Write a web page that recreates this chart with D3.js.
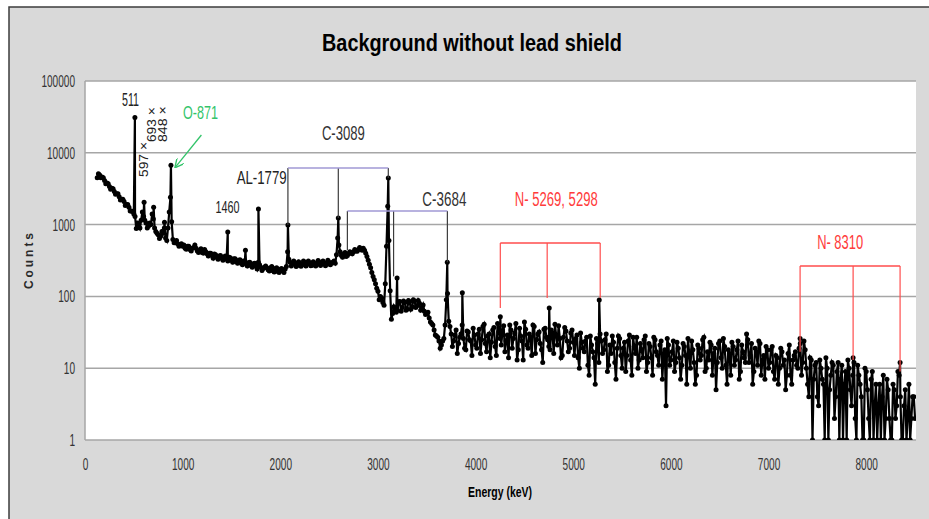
<!DOCTYPE html>
<html>
<head>
<meta charset="utf-8">
<script src="https://cdn.jsdelivr.net/npm/d3@7"></script>
<style>
  body { margin: 0; background: #fff; }
  text { font-family: "Liberation Sans", Arial, sans-serif; }
</style>
</head>
<body>
<div id="chart"></div>
<script>
// spectrum bins: 25 keV wide, first bin at 125 keV
var binStart = 125, binWidth = 25;

// 125 - 1000 keV
var countsLow = [4500, 4900, 4600, 4100, 3800, 3400, 3200, 2900, 2700, 2450,
    2250, 2100, 1900, 1750, 1550, 1400, 880, 1000, 1150, 1300,
    1050, 950, 1000, 1200, 800, 720, 690, 760, 650, 900,
    2400, 620, 560, 540, 520, 500];
// 1025 - 2000 keV
var countsK1 = [470, 500, 450, 470, 520, 430, 440, 410, 450, 390,
    400, 370, 390, 350, 365, 340, 355, 330, 350, 320,
    335, 305, 320, 290, 310, 285, 295, 270, 285, 262,
    300, 255, 245, 265, 235, 250, 228, 245, 222, 238];
// 2025 - 3000 keV
var countsK2 = [225, 240, 420, 300, 280, 295, 270, 290, 275, 300,
    280, 295, 272, 290, 278, 300, 285, 295, 280, 300,
    290, 310, 380, 520, 370, 390, 360, 395, 400, 420,
    430, 450, 455, 470, 400, 320, 250, 190, 150, 118];
// 3025 - 4000 keV
var countsK3 = [100, 82, 150, 1800, 120, 58, 65,
    64, 85, 70, 82, 66, 84, 72, 86, 74, 80,
    68, 62, 58, 50, 42, 34, 28, 24, 21, 26,
    90, 45, 30, 24, 34, 22, 30, 26, 18, 32,
    24, 36, 21];
// 4025 - 5000 keV
var countsK4 = [30, 16, 38, 22, 28, 14, 34, 20, 42, 26,
    33, 17, 29, 40, 19, 31, 13, 36, 24, 44,
    21, 30, 15, 38, 25, 32, 18, 35, 27, 20,
    34, 16, 29, 39, 14, 27, 33, 17, 31, 23];
// 5025 - 6000 keV
var countsK5 = [26, 14, 31, 19, 24, 11, 28, 17, 6, 22,
    30, 16, 25, 9, 21, 28, 12, 19, 26, 10,
    23, 15, 29, 8, 20, 27, 13, 18, 25, 9,
    22, 14, 27, 17, 11, 24, 16, 3, 21, 13];
// 6025 - 7000 keV
var countsK6 = [24, 12, 19, 7, 22, 15, 26, 10, 18, 6,
    21, 13, 25, 9, 17, 23, 8, 19, 12, 24,
    10, 20, 6, 16, 23, 11, 18, 7, 21, 14,
    30, 12, 22, 9, 17, 24, 8, 15, 20, 10];
// 7025 - 8000 keV
var countsK7 = [18, 9, 15, 6, 19, 11, 5, 16, 8, 13,
    17, 10, 22, 12, 18, 6, 14, 1, 11, 4,
    13, 7, 1, 10, 5, 12, 2, 9, 1, 11,
    6, 1, 10, 3, 12, 1, 8, 4, 1, 9];
// 8025 - 8500 keV
var countsK8 = [2, 7, 1, 6, 3, 1, 8, 2, 5, 1,
    6, 2, 9, 4, 1, 5, 2, 1, 4, 2];

// in-between channels, 137.5 - 8487.5 keV
var halfStart = 137.5;
var halfA = [5100, 4500, 4500, 3700, 3700, 3100, 3150, 2650, 2700, 2200,
    2250, 1850, 1900, 1550, 1520, 1300, 1050, 900, 1500, 1150,
    900, 1050, 1400, 900, 760, 640, 800, 900, 600, 1500,
    1100, 560, 600, 500, 540];
var halfB = [520, 455, 500, 430, 480, 470, 410, 460, 400, 420,
    365, 400, 340, 380, 330, 370, 320, 365, 310, 345,
    300, 335, 290, 325, 275, 310, 265, 300, 255, 290,
    240, 275, 230, 255, 250, 225, 260, 218, 250, 215];
var halfC = [245, 215, 260, 330, 265, 310, 260, 305, 262, 312,
    265, 310, 268, 305, 265, 315, 270, 312, 268, 318,
    275, 300, 290, 650, 420, 350, 410, 370, 420, 390,
    450, 425, 480, 440, 440, 360, 280, 215, 170, 130];
var halfD = [90, 95, 75, 500, 600, 48, 72, 60, 84, 62,
    86, 64, 88, 66, 90, 70, 88, 64, 76, 56,
    60, 44, 40, 29, 27, 19, 24, 40, 110,
    38, 20, 29, 16, 27, 40, 19, 33, 25, 15, 29];
var halfE = [19, 35, 25, 41, 17, 30, 23, 37, 15, 32,
    21, 39, 24, 14, 34, 26, 42, 18, 28, 13,
    35, 19, 27, 40, 16, 30, 22, 12, 36, 25,
    18, 31, 41, 21, 26, 15, 37, 24, 19, 34];
var halfF = [15, 29, 10, 23, 17, 27, 8, 21, 14, 26,
    12, 24, 18, 30, 11, 16, 23, 7, 28, 15,
    19, 9, 24, 13, 27, 16, 10, 22, 14, 28,
    12, 20, 8, 25, 15, 21, 7, 18, 26, 11];
var halfG = [17, 9, 23, 14, 11, 20, 6, 16, 24, 12,
    8, 19, 15, 27, 10, 13, 21, 16, 5, 22,
    14, 26, 11, 18, 8, 20, 13, 24, 9, 17,
    12, 25, 15, 6, 19, 11, 22, 13, 7, 18];
var halfH = [12, 20, 7, 14, 10, 17, 13, 8, 21, 6,
    15, 11, 19, 8, 24, 10, 4, 13, 7, 12,
    3, 10, 6, 14, 1, 8, 11, 4, 12, 7,
    1, 9, 13, 5, 8, 2, 11, 6, 1, 10];
var halfI = [5, 1, 9, 3, 1, 6, 4, 1, 7, 2,
    1, 5, 3, 8, 1, 3, 1, 6, 2, 4];

// peak maxima [energy keV, counts]
var peaks = [[511, 31000], [605, 2050], [703, 1750], [814, 1080], [880, 6700],
    [1462, 790], [1643, 440], [1776, 1650], [2078, 985], [2594, 1240],
    [3106, 4450], [3196, 180], [3710, 300], [3864, 112], [4253, 52],
    [4754, 69], [5266, 89], [7323, 26], [7866, 14], [8347, 12]];

// escape-peak brackets: energies, bar level, where each leg stops
var bracketNames = ["C-3089", "C-3684", "N-5269", "N-8310"];
var bracketEnergies = [[2078, 2594, 3106], [2687, 3160, 3711], [4253, 4733, 5276], [7323, 7866, 8347]];
var bracketLevels = [6150, 1550, 555, 265];
var bracketEnds = [[985, 1240, 4450], [440, 190, 300], [69, 95, 95], [17, 13, 9]];

// peak labels and where they sit (energy keV, counts)
var labelTexts = ["511", "597 \u00d7", "693 \u00d7", "848 \u00d7", "O-871", "1460", "AL-1779",
    "C-3089", "C-3684", "N- 5269, 5298", "N- 8310"];
var labelEnergies = [466, 650, 722, 844, 1182, 1460, 2065, 2646, 3680, 4826, 7733];
var labelCounts = [44900, 4600, 14100, 14100, 29600, 1450, 3680, 15070, 1815, 1815, 457];

var yTicks = [1, 10, 100, 1000, 10000, 100000];
var xTicks = [0, 1000, 2000, 3000, 4000, 5000, 6000, 7000, 8000];

var counts = [].concat(countsLow, countsK1, countsK2, countsK3, countsK4, countsK5, countsK6, countsK7, countsK8);
var half = [].concat(halfA, halfB, halfC, halfD, halfE, halfF, halfG, halfH, halfI);

var spectrum = counts.map(function (c, i) {
    return {e: binStart + i * binWidth, c: c};
}).concat(half.map(function (c, i) {
    return {e: halfStart + i * binWidth, c: c};
})).concat(peaks.map(function (p) {
    return {e: p[0], c: p[1]};
})).sort(function (a, b) { return a.e - b.e; });

var W = 929, H = 519;
var plot = {left: 85, right: 916, top: 81, bottom: 440};

var svg = d3.select("#chart").append("svg")
    .attr("width", W)
    .attr("height", H);

// chart area
svg.append("rect")
    .attr("x", 9).attr("y", 7)
    .attr("width", W - 9).attr("height", H - 7)
    .style("fill", "#d9d9d9");
svg.append("path")
    .attr("d", "M9," + H + "V7H" + W)
    .style("fill", "none")
    .style("stroke", "#3c3c3c")
    .style("stroke-width", 1.5);

svg.append("text")
    .attr("x", 472).attr("y", 51)
    .attr("text-anchor", "middle")
    .attr("textLength", 300)
    .attr("lengthAdjust", "spacingAndGlyphs")
    .style("font-weight", "bold")
    .style("font-size", "23px")
    .text("Background without lead shield");

var x = d3.scaleLinear().domain([0, 8510]).range([plot.left, plot.right]);
var y = d3.scaleLog().domain([1, 100000]).range([plot.bottom, plot.top]);

svg.append("rect")
    .attr("x", plot.left).attr("y", plot.top)
    .attr("width", plot.right - plot.left).attr("height", plot.bottom - plot.top)
    .style("fill", "#fff");

// grid
svg.append("g")
    .selectAll("line")
    .data(yTicks)
    .enter().append("line")
    .attr("x1", plot.left).attr("x2", plot.right)
    .attr("y1", function (d) { return y(d); })
    .attr("y2", function (d) { return y(d); })
    .style("stroke", "#a6a6a6")
    .style("stroke-width", 1.5);
svg.append("line")
    .attr("x1", plot.left).attr("x2", plot.left)
    .attr("y1", plot.top).attr("y2", plot.bottom)
    .style("stroke", "#a6a6a6")
    .style("stroke-width", 1.5);

function narrowTicks(sel) {
    sel.selectAll("text")
        .style("font-size", "17px")
        .style("font-family", null)
        .style("fill", "#333")
        .attr("textLength", function (d) { return String(d).length * 5.6; })
        .attr("lengthAdjust", "spacingAndGlyphs");
}

var yAxis = d3.axisLeft(y).tickValues(yTicks).tickSize(0).tickPadding(10)
    .tickFormat(d3.format("d"));
var gy = svg.append("g")
    .attr("transform", "translate(" + plot.left + ",0)")
    .call(yAxis);
gy.select(".domain").remove();
narrowTicks(gy);

var xAxis = d3.axisBottom(x).tickValues(xTicks).tickSize(0).tickPadding(18)
    .tickFormat(d3.format("d"));
var gx = svg.append("g")
    .attr("transform", "translate(0," + plot.bottom + ")")
    .call(xAxis);
gx.select(".domain").remove();
narrowTicks(gx);

svg.append("text")
    .attr("x", 500).attr("y", 497)
    .attr("text-anchor", "middle")
    .attr("textLength", 64)
    .attr("lengthAdjust", "spacingAndGlyphs")
    .style("font-weight", "bold")
    .style("font-size", "15px")
    .text("Energy (keV)");

svg.append("text")
    .attr("transform", "translate(33,261) rotate(-90)")
    .attr("text-anchor", "middle")
    .attr("textLength", 56)
    .style("font-weight", "bold")
    .style("font-size", "12px")
    .style("fill", "#2a2a2a")
    .text("Counts");

// spectrum
svg.append("clipPath").attr("id", "clip")
    .append("rect")
    .attr("x", plot.left).attr("y", plot.top)
    .attr("width", plot.right - plot.left).attr("height", plot.bottom - plot.top);

var line = d3.line()
    .x(function (d) { return x(d.e); })
    .y(function (d) { return y(d.c); });

var g = svg.append("g").attr("clip-path", "url(#clip)");
g.append("path")
    .datum(spectrum)
    .attr("d", line)
    .style("fill", "none")
    .style("stroke", "#000")
    .style("stroke-width", 2.2);
g.selectAll("circle")
    .data(spectrum)
    .enter().append("circle")
    .attr("cx", function (d) { return x(d.e); })
    .attr("cy", function (d) { return y(d.c); })
    .attr("r", 2.5)
    .style("fill", "#000");

// brackets
var barColor = ["#a198d4", "#a198d4", "#ff4d4d", "#ff4d4d"];
var legColor = ["#3c3c3c", "#3c3c3c", "#ff4d4d", "#ff4d4d"];
bracketNames.forEach(function (name, i) {
    var es = bracketEnergies[i];
    es.forEach(function (e, j) {
        svg.append("line")
            .attr("x1", x(e)).attr("x2", x(e))
            .attr("y1", y(bracketLevels[i])).attr("y2", y(bracketEnds[i][j]))
            .style("stroke", legColor[i])
            .style("stroke-width", 1.2);
    });
    svg.append("line")
        .attr("x1", x(es[0])).attr("x2", x(es[2]))
        .attr("y1", y(bracketLevels[i])).attr("y2", y(bracketLevels[i]))
        .style("stroke", barColor[i])
        .style("stroke-width", 1.6);
});

// label styling
var labelAnchor = ["middle", "start", "start", "start", "middle", "middle", "end", "middle", "middle", "middle", "middle"];
var labelRotated = [false, true, true, true, false, false, false, false, false, false, false];
var labelColor = ["#222", "#222", "#222", "#222", "#33c46a", "#222", "#222", "#333", "#333", "#ff3b3b", "#ff3b3b"];
var labelSize = [19, 12, 12, 12, 19, 16, 19, 20, 20, 20, 20];
var labelWidth = [17, 35, 35, 36, 35, 24, 50, 43, 44, 83, 46];

labelTexts.forEach(function (txt, i) {
    var t = svg.append("text")
        .attr("text-anchor", labelAnchor[i])
        .attr("textLength", labelWidth[i])
        .attr("lengthAdjust", "spacingAndGlyphs")
        .style("fill", labelColor[i])
        .style("font-size", labelSize[i] + "px")
        .text(txt);
    if (labelRotated[i]) {
        t.attr("transform", "translate(" + x(labelEnergies[i]) + "," + y(labelCounts[i]) + ") rotate(-90)");
    } else {
        t.attr("x", x(labelEnergies[i])).attr("y", y(labelCounts[i]));
    }
});

// arrow to O-871
svg.append("defs").append("marker")
    .attr("id", "arrow")
    .attr("viewBox", "0 0 10 10")
    .attr("refX", 9).attr("refY", 5)
    .attr("markerWidth", 7).attr("markerHeight", 7)
    .attr("orient", "auto")
    .append("path")
    .attr("d", "M0,0L10,5L0,10")
    .style("fill", "none")
    .style("stroke", "#33c46a")
    .style("stroke-width", 1.5);
svg.append("line")
    .attr("x1", x(1192)).attr("y1", y(17700))
    .attr("x2", x(926)).attr("y2", y(6300))
    .attr("marker-end", "url(#arrow)")
    .style("stroke", "#33c46a")
    .style("stroke-width", 1.3);
</script>
</body>
</html>
